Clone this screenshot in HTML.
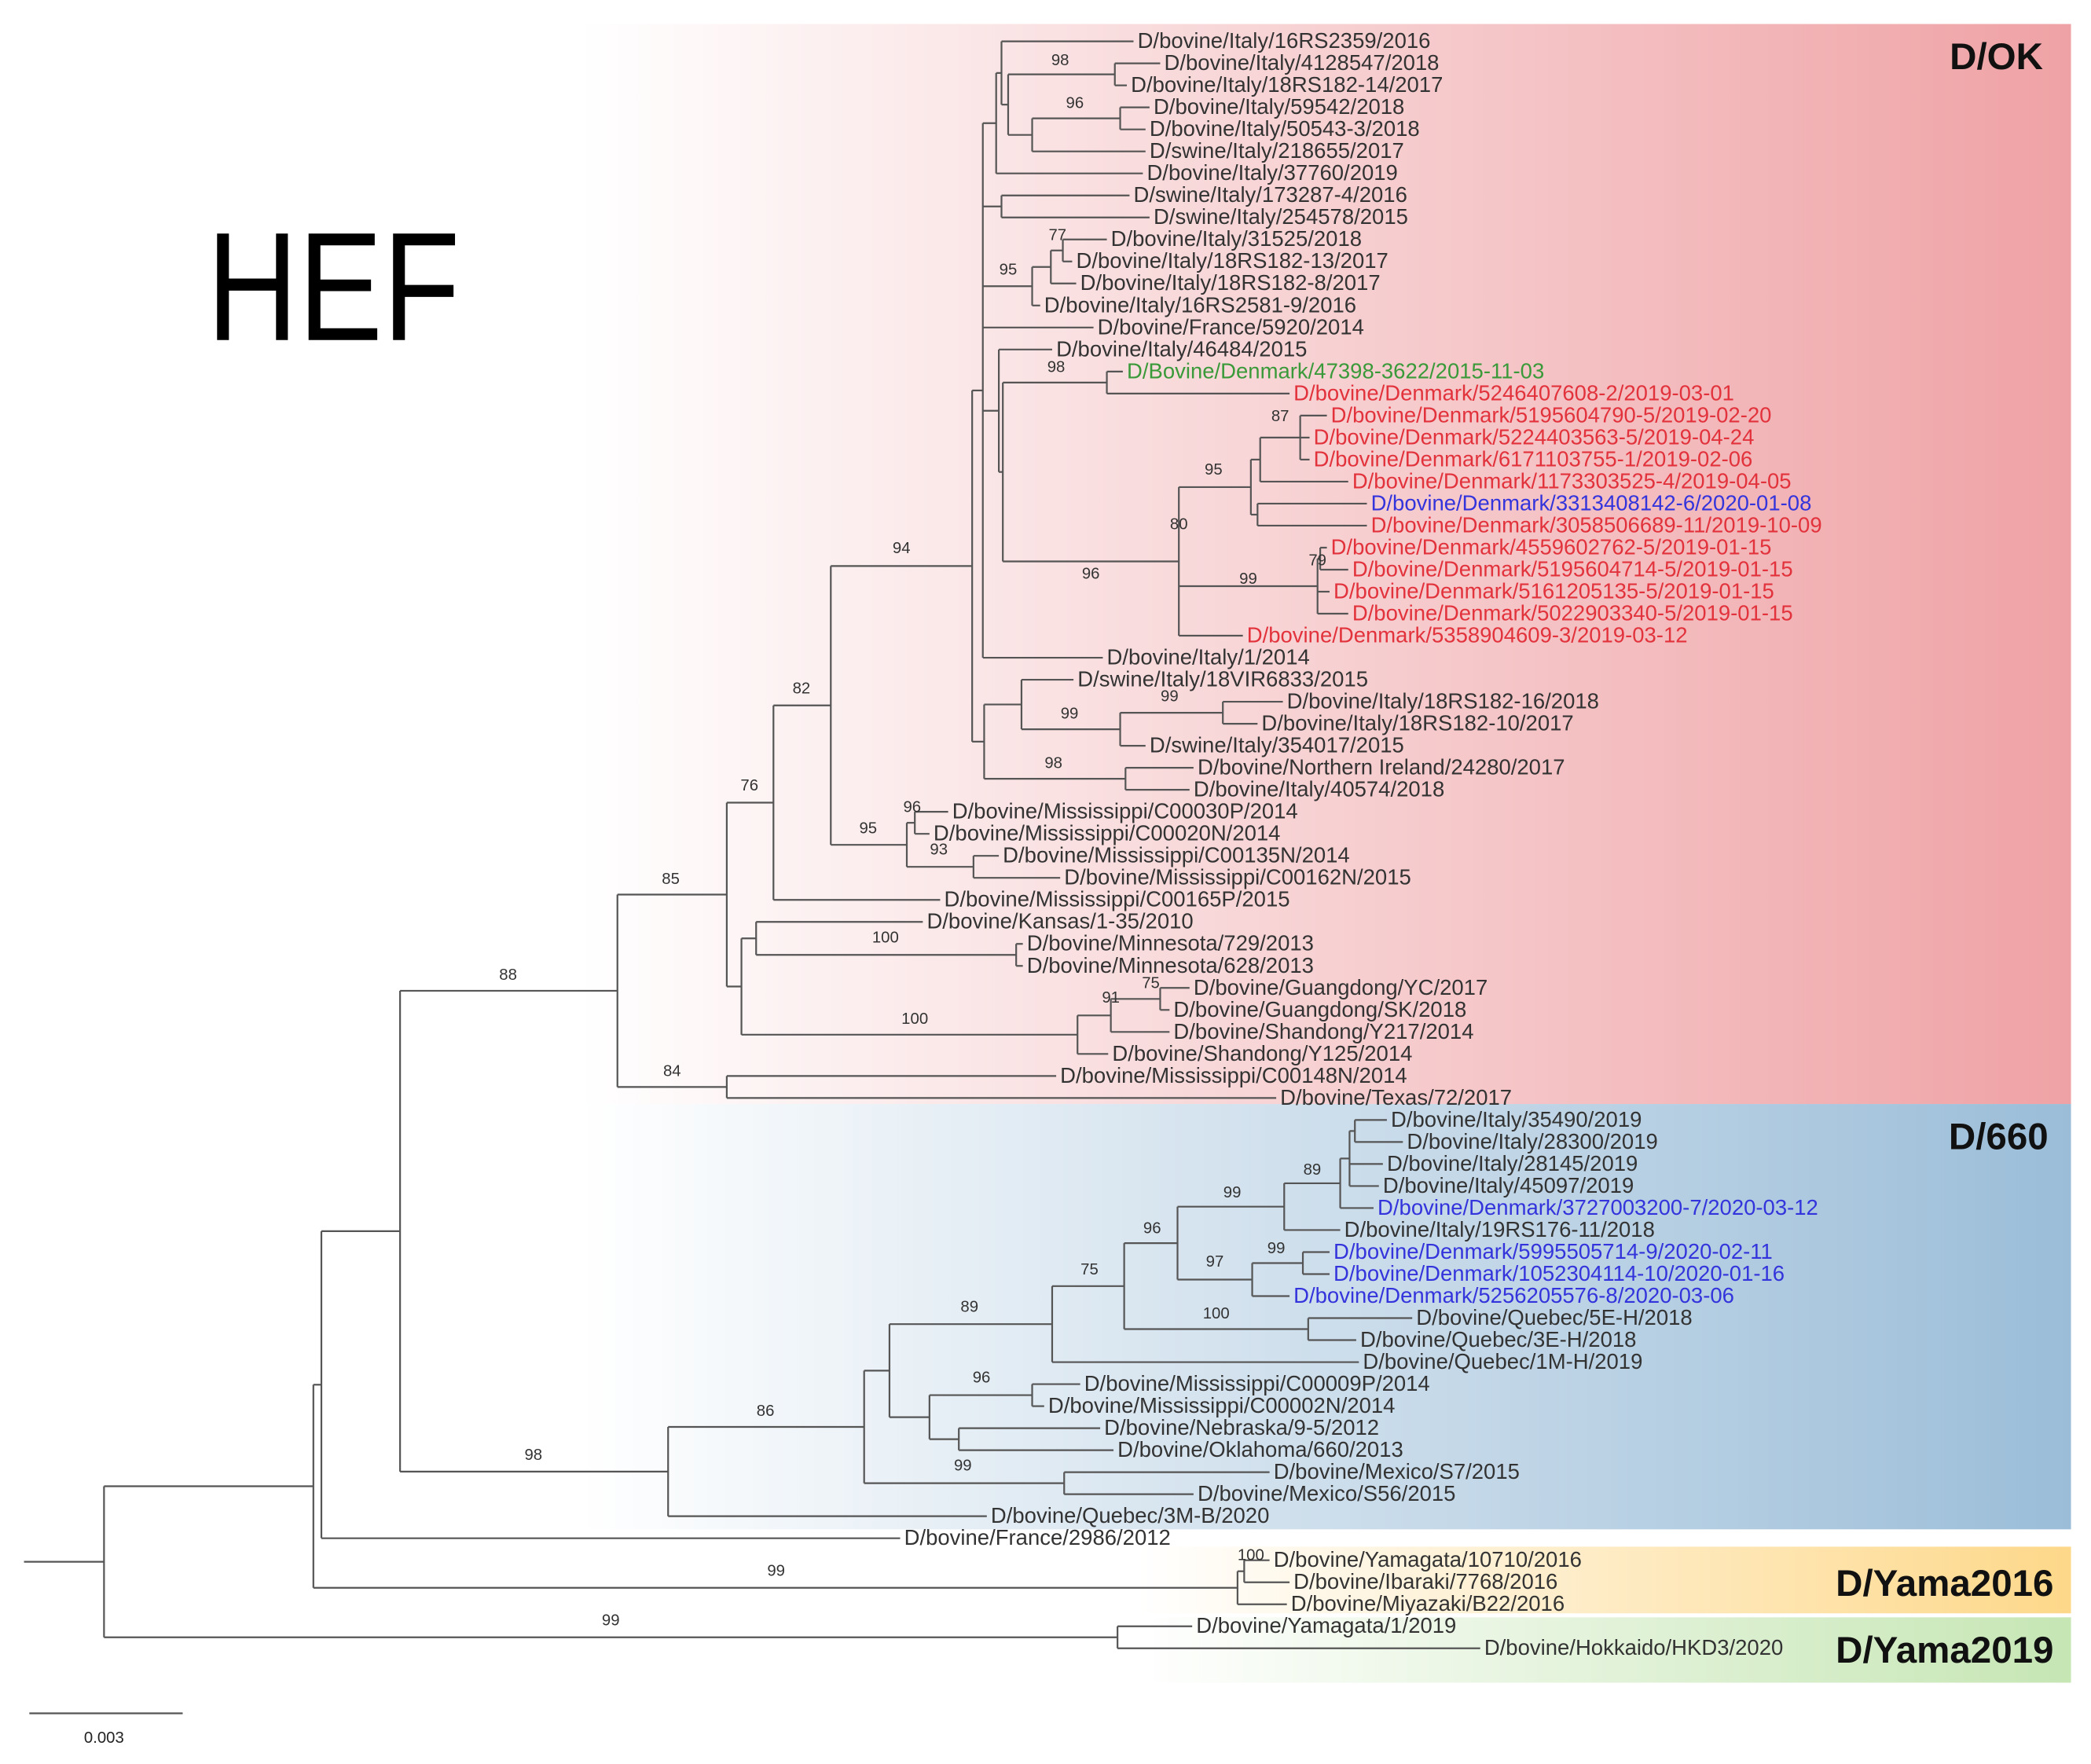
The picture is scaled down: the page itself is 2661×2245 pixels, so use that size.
<!DOCTYPE html>
<html><head><meta charset="utf-8"><style>
html,body{margin:0;padding:0;background:#fff;}
svg{display:block;}
</style></head><body>
<svg id="s" xmlns="http://www.w3.org/2000/svg" width="2661" height="2245" viewBox="0 0 1568 1323" preserveAspectRatio="none" font-family="Liberation Sans, Arial, sans-serif">
<defs>
<linearGradient id="gOK" x1="0" x2="1" y1="0" y2="0"><stop offset="0" stop-color="#fff"/><stop offset="0.28" stop-color="#fff"/><stop offset="1" stop-color="#efa2a5"/></linearGradient>
<linearGradient id="g660" x1="0" x2="1" y1="0" y2="0"><stop offset="0" stop-color="#fff"/><stop offset="0.28" stop-color="#fff"/><stop offset="1" stop-color="#9bbdd8"/></linearGradient>
<linearGradient id="gY16" x1="0" x2="1" y1="0" y2="0"><stop offset="0" stop-color="#fff"/><stop offset="0.55" stop-color="#fff"/><stop offset="1" stop-color="#fdd88a"/></linearGradient>
<linearGradient id="gY19" x1="0" x2="1" y1="0" y2="0"><stop offset="0" stop-color="#fff"/><stop offset="0.55" stop-color="#fff"/><stop offset="1" stop-color="#c6e6b4"/></linearGradient>
</defs>
<rect x="0" y="18" width="1553" height="810" fill="url(#gOK)"/>
<rect x="0" y="828" width="1553" height="319" fill="url(#g660)"/>
<rect x="0" y="1160" width="1553" height="50" fill="url(#gY16)"/>
<rect x="0" y="1213" width="1553" height="49" fill="url(#gY19)"/>
<text x="155" y="255" font-size="116" textLength="190" lengthAdjust="spacingAndGlyphs" fill="#000">HEF</text>
<g font-weight="bold" font-size="28" fill="#111" text-anchor="end">
<text x="1532" y="52">D/OK</text>
<text x="1536" y="862">D/660</text>
<text x="1540" y="1197">D/Yama2016</text>
<text x="1540" y="1247">D/Yama2019</text>
</g>
<line x1="22" y1="1285" x2="137" y2="1285" stroke="#555" stroke-width="1.3"/>
<text x="78" y="1307" font-size="12" text-anchor="middle" fill="#222">0.003</text>
<g id="tree" stroke="#555" stroke-width="1.3" fill="none"></g>
<g id="labels" font-size="16.2" fill="#333"></g>
<g id="boot" font-size="12" fill="#333" text-anchor="middle">
<text x="795" y="49">98</text><text x="806" y="81">96</text><text x="793" y="180">77</text><text x="756" y="206">95</text>
<text x="792" y="279">98</text><text x="960" y="316">87</text><text x="910" y="356">95</text><text x="884" y="397">80</text>
<text x="988" y="424">79</text><text x="818" y="434">96</text><text x="936" y="438">99</text><text x="676" y="415">94</text>
<text x="877" y="526">99</text><text x="802" y="539">99</text><text x="790" y="576">98</text><text x="601" y="520">82</text>
<text x="684" y="609">96</text><text x="651" y="625">95</text><text x="704" y="641">93</text><text x="562" y="593">76</text>
<text x="503" y="663">85</text><text x="664" y="707">100</text><text x="863" y="741">75</text><text x="833" y="752">91</text>
<text x="686" y="768">100</text><text x="381" y="735">88</text><text x="504" y="807">84</text><text x="984" y="881">89</text>
<text x="924" y="898">99</text><text x="864" y="925">96</text><text x="911" y="950">97</text><text x="957" y="940">99</text>
<text x="817" y="956">75</text><text x="912" y="989">100</text><text x="727" y="984">89</text><text x="736" y="1037">96</text>
<text x="574" y="1062">86</text><text x="722" y="1103">99</text><text x="400" y="1095">98</text><text x="938" y="1170">100</text>
<text x="582" y="1182">99</text><text x="458" y="1219">99</text>
</g>
</svg>
<script>
var R='#e2323c',B='#3434dc',G='#3a9a3a';
var L=[null,
[853,'D/bovine/Italy/16RS2359/2016'],[873,'D/bovine/Italy/4128547/2018'],[848,'D/bovine/Italy/18RS182-14/2017'],
[865,'D/bovine/Italy/59542/2018'],[862,'D/bovine/Italy/50543-3/2018'],[862,'D/swine/Italy/218655/2017'],
[860,'D/bovine/Italy/37760/2019'],[850,'D/swine/Italy/173287-4/2016'],[865,'D/swine/Italy/254578/2015'],
[833,'D/bovine/Italy/31525/2018'],[807,'D/bovine/Italy/18RS182-13/2017'],[810,'D/bovine/Italy/18RS182-8/2017'],
[783,'D/bovine/Italy/16RS2581-9/2016'],[823,'D/bovine/France/5920/2014'],[792,'D/bovine/Italy/46484/2015'],
[845,'D/Bovine/Denmark/47398-3622/2015-11-03',G],[970,'D/bovine/Denmark/5246407608-2/2019-03-01',R],
[998,'D/bovine/Denmark/5195604790-5/2019-02-20',R],[985,'D/bovine/Denmark/5224403563-5/2019-04-24',R],
[985,'D/bovine/Denmark/6171103755-1/2019-02-06',R],[1014,'D/bovine/Denmark/1173303525-4/2019-04-05',R],
[1028,'D/bovine/Denmark/3313408142-6/2020-01-08',B],[1028,'D/bovine/Denmark/3058506689-11/2019-10-09',R],
[998,'D/bovine/Denmark/4559602762-5/2019-01-15',R],[1014,'D/bovine/Denmark/5195604714-5/2019-01-15',R],
[1000,'D/bovine/Denmark/5161205135-5/2019-01-15',R],[1014,'D/bovine/Denmark/5022903340-5/2019-01-15',R],
[935,'D/bovine/Denmark/5358904609-3/2019-03-12',R],[830,'D/bovine/Italy/1/2014'],
[808,'D/swine/Italy/18VIR6833/2015'],[965,'D/bovine/Italy/18RS182-16/2018'],[946,'D/bovine/Italy/18RS182-10/2017'],
[862,'D/swine/Italy/354017/2015'],[898,'D/bovine/Northern Ireland/24280/2017'],[895,'D/bovine/Italy/40574/2018'],
[714,'D/bovine/Mississippi/C00030P/2014'],[700,'D/bovine/Mississippi/C00020N/2014'],[752,'D/bovine/Mississippi/C00135N/2014'],
[798,'D/bovine/Mississippi/C00162N/2015'],[708,'D/bovine/Mississippi/C00165P/2015'],[695,'D/bovine/Kansas/1-35/2010'],
[770,'D/bovine/Minnesota/729/2013'],[770,'D/bovine/Minnesota/628/2013'],[895,'D/bovine/Guangdong/YC/2017'],
[880,'D/bovine/Guangdong/SK/2018'],[880,'D/bovine/Shandong/Y217/2014'],[834,'D/bovine/Shandong/Y125/2014'],
[795,'D/bovine/Mississippi/C00148N/2014'],[960,'D/bovine/Texas/72/2017'],
[1043,'D/bovine/Italy/35490/2019'],[1055,'D/bovine/Italy/28300/2019'],[1040,'D/bovine/Italy/28145/2019'],
[1037,'D/bovine/Italy/45097/2019'],[1033,'D/bovine/Denmark/3727003200-7/2020-03-12',B],[1008,'D/bovine/Italy/19RS176-11/2018'],
[1000,'D/bovine/Denmark/5995505714-9/2020-02-11',B],[1000,'D/bovine/Denmark/1052304114-10/2020-01-16',B],
[970,'D/bovine/Denmark/5256205576-8/2020-03-06',B],[1062,'D/bovine/Quebec/5E-H/2018'],[1020,'D/bovine/Quebec/3E-H/2018'],
[1022,'D/bovine/Quebec/1M-H/2019'],[813,'D/bovine/Mississippi/C00009P/2014'],[786,'D/bovine/Mississippi/C00002N/2014'],
[828,'D/bovine/Nebraska/9-5/2012'],[838,'D/bovine/Oklahoma/660/2013'],[955,'D/bovine/Mexico/S7/2015'],
[898,'D/bovine/Mexico/S56/2015'],[743,'D/bovine/Quebec/3M-B/2020'],[678,'D/bovine/France/2986/2012'],
[955,'D/bovine/Yamagata/10710/2016'],[970,'D/bovine/Ibaraki/7768/2016'],[968,'D/bovine/Miyazaki/B22/2016'],
[897,'D/bovine/Yamagata/1/2019'],[1113,'D/bovine/Hokkaido/HKD3/2020']];
function n(x,c){return {x:x,c:c};}
var tree=n(78,[
 n(235,[
  n(241,[
   n(300,[
    n(463,[
     n(545,[
      n(580,[
       n(623,[
        n(729,[
         n(737,[
          n(747,[n(751,[1,n(756,[n(836,[2,3]),n(774,[n(840,[4,5]),6])])]),7]),
          n(751,[8,9]),
          n(774,[n(788,[n(797,[10,11]),12]),13]),
          14,
          n(749,[15,n(752,[n(830,[16,17]),n(884,[n(938,[n(945,[n(975,[18,19,20]),21]),n(943,[22,23])]),n(988,[n(990,[24,25]),26,27]),28])])]),
          29
         ]),
         n(738,[n(766,[30,n(840,[n(917,[31,32]),33])]),n(844,[34,35])])
        ]),
        n(680,[n(686,[36,37]),n(730,[38,39])])
       ]),
       40
      ]),
      n(556,[n(567,[41,n(762,[42,43])]),n(808,[n(833,[n(870,[44,45]),46]),47])])
     ]),
     n(545,[48,49])
    ]),
    n(501,[
     n(648,[
      n(667,[
       n(789,[n(843,[n(883,[n(963,[n(1005,[n(1012,[n(1016,[50,51]),52,53]),54]),55]),n(939,[n(977,[56,57]),58])]),n(981,[59,60])]),61]),
       n(697,[n(774,[62,63]),n(719,[64,65])])
      ]),
      n(798,[66,67])
     ]),
     68
    ])
   ]),
   69
  ]),
  n(928,[n(933,[70,71]),72])
 ]),
 n(838,[73,74])
]);
var NS='http://www.w3.org/2000/svg',tg=document.getElementById('tree'),lg=document.getElementById('labels');
function ry(i){return 31+(i-1)*16.51;}
function ln(x1,y1,x2,y2){var e=document.createElementNS(NS,'line');e.setAttribute('x1',x1);e.setAttribute('y1',y1);e.setAttribute('x2',x2);e.setAttribute('y2',y2);tg.appendChild(e);}
function yof(t){if(typeof t==='number')return ry(t);var a=yof(t.c[0]),b=yof(t.c[t.c.length-1]);t.y=(a+b)/2;return t.y;}
function draw(t,px){
 if(typeof t==='number'){var y=ry(t),d=L[t];ln(px,y,d[0]-3,y);
  var e=document.createElementNS(NS,'text');e.setAttribute('x',d[0]);e.setAttribute('y',y+5);if(d[2])e.setAttribute('fill',d[2]);e.textContent=d[1];lg.appendChild(e);return;}
 var y=yof(t);
 ln(px,y,t.x,y);
 ln(t.x,yof(t.c[0]),t.x,yof(t.c[t.c.length-1]));
 for(var i=0;i<t.c.length;i++)draw(t.c[i],t.x);
}
draw(tree,18);
</script>
</body></html>
